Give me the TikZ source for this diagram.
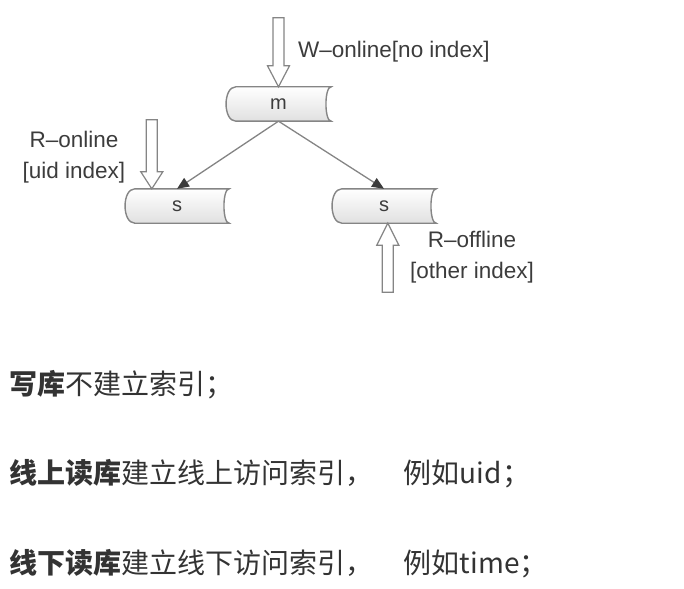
\documentclass[tikz,border=0pt]{standalone}
\usepackage{fontspec}
\setmainfont{Liberation Sans}
\newfontfamily\cjk{Noto Sans CJK SC}
\usetikzlibrary{calc,arrows.meta,backgrounds}
\definecolor{ink}{HTML}{3C3C3C}
\definecolor{edge}{HTML}{858585}

\begin{document}
\begin{tikzpicture}[x=1pt,y=-1pt,
  box/.style={minimum width=105,minimum height=34,inner sep=0,font=\fontsize{20}{20}\selectfont,text=ink},
  tape/.style={draw=edge,line width=1.4pt,top color=white,bottom color=black!12},
  link/.style={draw=edge,line width=1.3pt,-{Triangle[width=10pt,length=12pt,color=ink]}},
  hollow/.style={draw=edge,line width=1.2pt,fill=white,line join=miter},
  lbl/.style={font=\fontsize{22.5}{31}\selectfont,text=ink,inner sep=0},
  cjktext/.style={font=\cjk\fontsize{28}{28}\selectfont,text=black!80,anchor=west,inner sep=0}]
\useasboundingbox (0,0) rectangle (684,588);
\node[box] (m) at (278.5,104) {m};
\node[box,minimum width=104] (sl) at (177,206) {s};
\node[box,minimum width=104] (sr) at (384,206) {s};
\begin{scope}[on background layer]
\foreach \n in {m,sl,sr}
  \draw[tape] ([xshift=10]\n.south west) .. controls +(-13,0) and +(-13,0) .. ([xshift=10]\n.north west)
    -- (\n.north east) .. controls +(-7,0) and +(-7,0) .. (\n.south east) -- cycle;
\end{scope}
\draw[link] (m.south) -- (sl.north);
\draw[link] (m.south) -- (sr.north);
\coordinate (wt) at (m.north);
\coordinate (rt) at ([xshift=27]sl.north west);
\coordinate (ot) at ([xshift=56]sr.south west);
\foreach \t/\a/\h in {wt/-90/21,rt/-90/17,ot/90/22}
  \draw[hollow,shift={(\t)},rotate=\a] (0,0) -- (-\h,11) -- (-\h,5.5) -- (-69,5.5) -- (-69,-5.5) -- (-\h,-5.5) -- (-\h,-11) -- cycle;
\node[lbl,anchor=west] (wl) at (298,52) {W–online[no index]};
\node[lbl,align=center] (rl) at (74,157) {R–online\\{[uid index]}};
\node[lbl,align=center] (ol) at (472,257) {R–offline\\{[other index]}};
\node[cjktext] (t1) at (9,385) {\textbf{写库}不建立索引；};
\node[cjktext] (t2) at (9,474) {\textbf{线上读库}建立线上访问索引，\hspace{1.1em}例如uid；};
\node[cjktext] (t3) at (9,564) {\textbf{线下读库}建立线下访问索引，\hspace{1.1em}例如time；};
\end{tikzpicture}
\end{document}
